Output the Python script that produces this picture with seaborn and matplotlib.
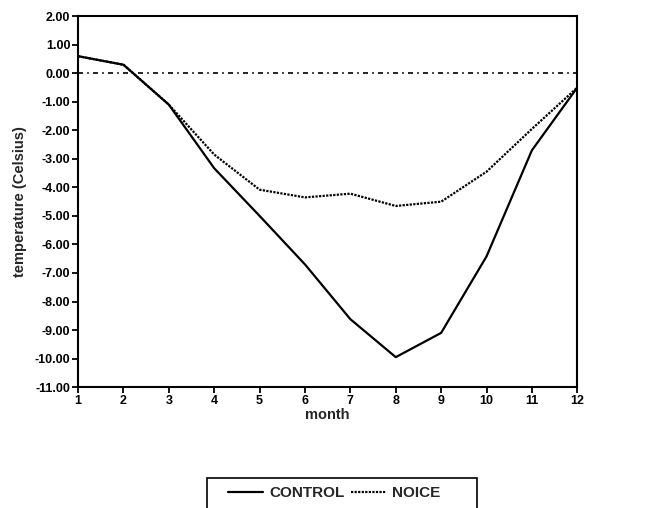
import numpy as np
import pandas as pd
import matplotlib
matplotlib.use("Agg")
import matplotlib.pyplot as plt
import seaborn as sns
from matplotlib.lines import Line2D
from matplotlib.patches import Rectangle

# data
months = [1, 2, 3, 4, 5, 6, 7, 8, 9, 10, 11, 12]
control = [0.60, 0.30, -1.10, -3.33, -5.00, -6.70, -8.62, -9.95, -9.10, -6.42, -2.70, -0.50]
noice = [0.60, 0.30, -1.10, -2.85, -4.08, -4.35, -4.22, -4.65, -4.50, -3.45, -1.95, -0.50]
yticks = [2, 1, 0, -1, -2, -3, -4, -5, -6, -7, -8, -9, -10, -11]

df = pd.DataFrame({
	"month": months * 2,
	"temp": control + noice,
	"run": ["CONTROL"] * len(months) + ["NOICE"] * len(months),
})

sns.set_theme(style="white")
plt.rcParams['font.family'] = ['Liberation Sans', 'DejaVu Sans']
plt.rcParams['font.weight'] = 'bold'

fig = plt.figure(figsize=(6.62, 5.08), dpi=100)
ax = fig.add_axes([0.118, 0.238, 0.754, 0.730])

sns.lineplot(data=df, x="month", y="temp", hue="run", style="run",
	palette={"CONTROL": "black", "NOICE": "black"},
	dashes={"CONTROL": "", "NOICE": (1, 0.6)},
	lw=1.6, ax=ax, legend=False)

# zero reference line
ax.axhline(0, color="black", lw=1.2, dashes=(3, 2.5, 1, 2.5))

ax.set_xlim(1, 12)
ax.set_ylim(-11, 2)
ax.set_xticks(months)
ax.set_yticks(yticks)
ax.set_yticklabels([f"{v:.2f}" for v in yticks])
ax.tick_params(axis="both", direction="out", length=4, width=1.3, labelsize=9,
	bottom=True, left=True, pad=1.5, color="black", labelcolor="black")
for sp in ax.spines.values():
	sp.set_color("black")
	sp.set_linewidth(1.5)

ax.set_xlabel("month", fontsize=10.5, weight='bold', labelpad=1)
ax.set_ylabel("temperature (Celsius)", fontsize=10.5, weight='bold', labelpad=6)

# legend box runs off the bottom edge like in the scan
fig.add_artist(Rectangle((207 / 662, -0.03), 270 / 662, 0.03 + 30 / 508,
	transform=fig.transFigure, fill=False, edgecolor="black", lw=1.2))
handles = [Line2D([], [], color="black", lw=1.6),
	Line2D([], [], color="black", lw=1.6, dashes=(1, 0.6))]
leg = fig.legend(handles, ["CONTROL", "NOICE"], loc="center left",
	bbox_to_anchor=(228 / 662, 1 - 493 / 508), ncol=2, frameon=False,
	fontsize=11, handlelength=2.3, handletextpad=0.4, columnspacing=0.4,
	borderpad=0, borderaxespad=0)

fig.savefig("out.png", dpi=100)
